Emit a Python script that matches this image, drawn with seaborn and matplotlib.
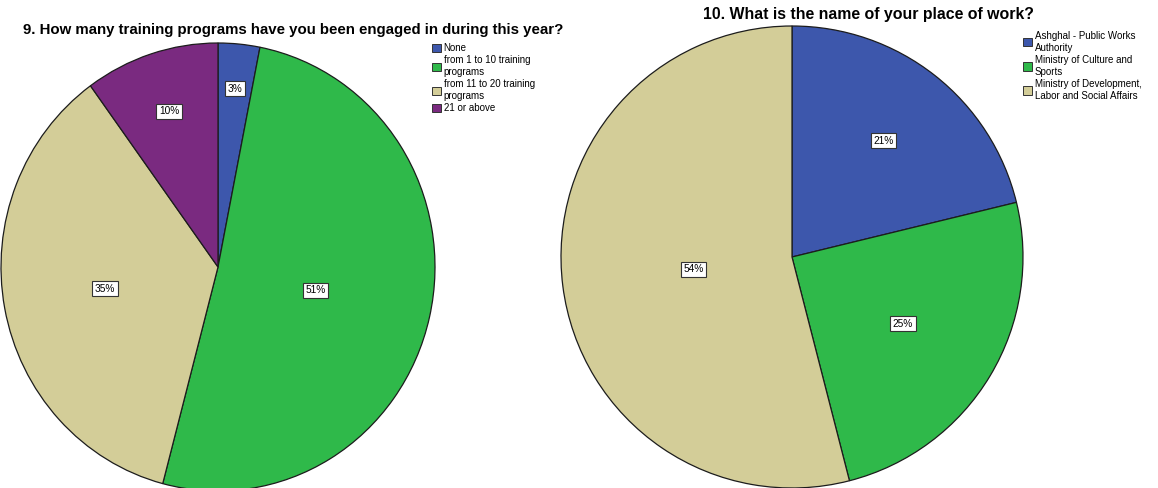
import numpy as np
import matplotlib.pyplot as plt
import seaborn as sns
from matplotlib.patches import Patch

sns.set_theme(style="white")
plt.rcParams['font.family'] = ['Liberation Sans', 'DejaVu Sans']
plt.rcParams['text.color'] = 'black'

# data
q9_title = "9. How many training programs have you been engaged in during this year?"
q9_labels = ["None", "from 1 to 10 training\nprograms", "from 11 to 20 training\nprograms", "21 or above"]
q9_share = [3.1, 51.0, 35.9, 10.0]
q9_text = ["3%", "51%", "35%", "10%"]

q10_title = "10. What is the name of your place of work?"
q10_labels = ["Ashghal - Public Works\nAuthority", "Ministry of Culture and\nSports",
              "Ministry of Development,\nLabor and Social Affairs"]
q10_share = [21.2, 24.8, 54.0]
q10_text = ["21%", "25%", "54%"]

BLUE, GREEN, TAN, PURPLE = "#3d57ac", "#2fb94a", "#d3cd98", "#7a2a80"
W, H = 1158, 488

fig = plt.figure(figsize=(W / 100, H / 100), dpi=100)


def draw_pie(cx, cy, rx, ry, shares, texts, colors, dist):
    # axes sized in pixels so that radius 1 matches the reference
    ax = fig.add_axes([(cx - rx) / W, 1 - (cy + ry) / H, 2 * rx / W, 2 * ry / H])
    wedges, _ = ax.pie(shares, colors=colors, startangle=90, counterclock=False,
                       wedgeprops=dict(edgecolor="#1c1c1c", linewidth=0.9))
    ax.set_xlim(-1, 1)
    ax.set_ylim(-1, 1)
    ax.set_aspect("auto")
    ax.axis("off")
    for w, t, d in zip(wedges, texts, dist):
        w.set_clip_on(False)
        mid = np.deg2rad((w.theta1 + w.theta2) / 2)
        ax.text(d * np.cos(mid), d * np.sin(mid), t, ha="center", va="center", fontsize=7.3,
                bbox=dict(boxstyle="square,pad=0.25", fc="white", ec="#333333", lw=0.8))
    return ax


def add_legend(x, y, labels, colors):
    handles = [Patch(facecolor=c, edgecolor="#333333", linewidth=0.7) for c in colors]
    fig.legend(handles, labels, loc="upper left", bbox_to_anchor=(x / W, 1 - y / H),
               frameon=False, fontsize=7, handlelength=0.9, handleheight=0.9,
               handletextpad=0.3, labelspacing=0.25, borderpad=0, borderaxespad=0)


draw_pie(218, 267, 217, 224, q9_share, q9_text, [BLUE, GREEN, TAN, PURPLE], [0.8, 0.46, 0.53, 0.73])
draw_pie(792, 257, 231, 231, q10_share, q10_text, [BLUE, GREEN, TAN], [0.64, 0.56, 0.43])

fig.text(293 / W, 1 - 30 / H, q9_title, ha="center", va="center", fontsize=10.8, fontweight="bold")
fig.text(868 / W, 1 - 14 / H, q10_title, ha="center", va="center", fontsize=11.4, fontweight="bold")

add_legend(432, 43, q9_labels, [BLUE, GREEN, TAN, PURPLE])
add_legend(1023, 31, q10_labels, [BLUE, GREEN, TAN])

fig.savefig("out.png", dpi=100)
